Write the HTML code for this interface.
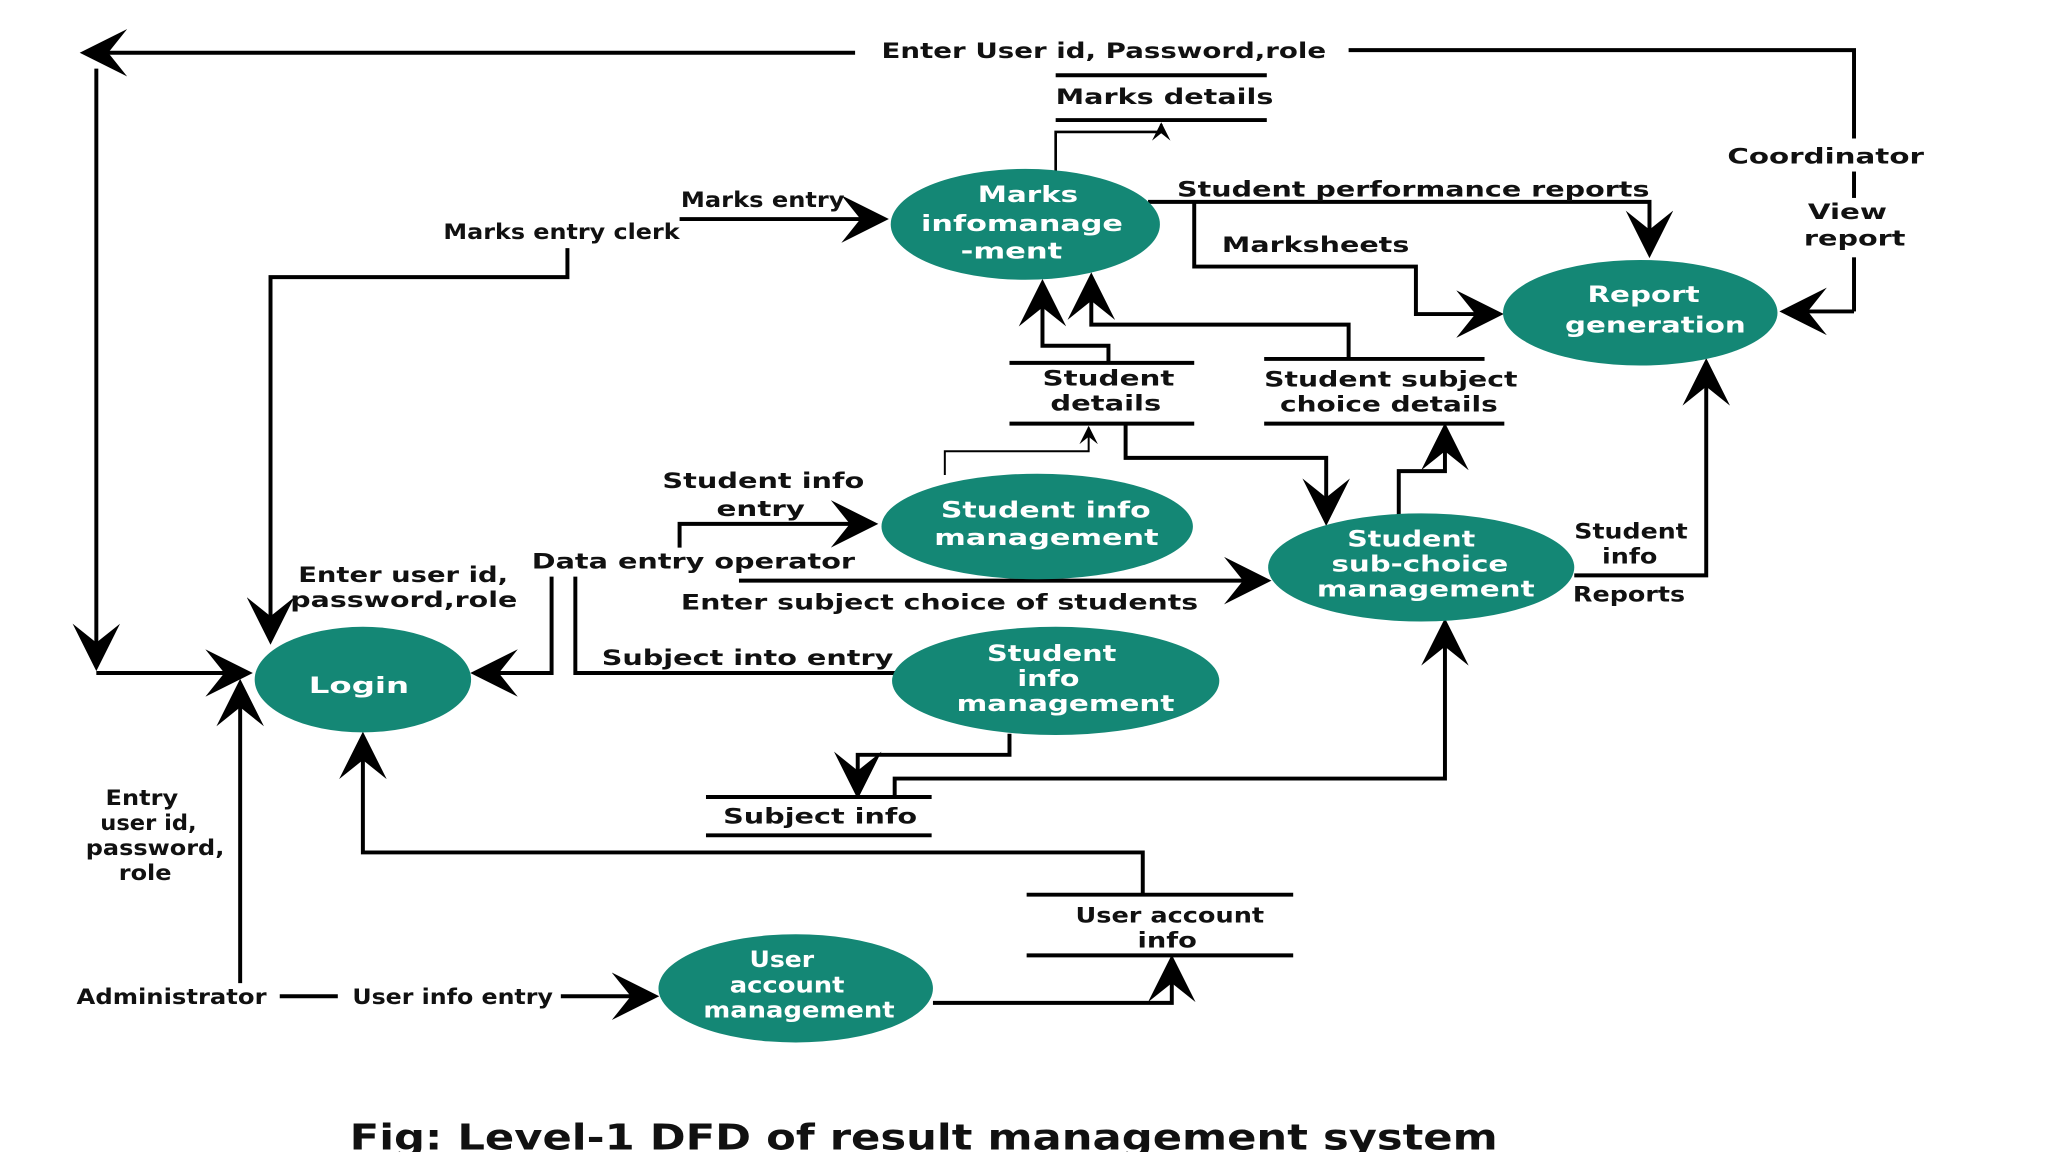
<!DOCTYPE html>
<html><head><meta charset="utf-8"><style>
html,body{margin:0;padding:0;background:#fff;width:2048px;height:1152px;overflow:hidden}
text{font-family:"DejaVu Sans","Liberation Sans",sans-serif;fill:#111;font-weight:bold}
.w text{fill:#fff}
</style></head><body>
<svg width="2048" height="1152" viewBox="0 0 1552 873" preserveAspectRatio="none" xmlns="http://www.w3.org/2000/svg">
<defs>
<marker id="b" viewBox="0 0 10 10" refX="9" refY="5" markerWidth="36" markerHeight="36" orient="auto" markerUnits="userSpaceOnUse"><path d="M0,0 L10,5 L0,10 L4,5 z" fill="#000"/></marker>
<marker id="s" viewBox="0 0 10 10" refX="9" refY="5" markerWidth="14" markerHeight="14" orient="auto" markerUnits="userSpaceOnUse"><path d="M0,0 L10,5 L0,10 L4,5 z" fill="#000"/></marker>
</defs>
<g fill="none" stroke="#000" stroke-width="3">
<polyline points="1405,236 1405,195"/>
<polyline points="1405,150 1405,130"/>
<polyline points="1405,105 1405,38 1022,38"/>
<polyline points="648,40 64,40" marker-end="url(#b)"/>
<polyline points="1405,236 1352,236" marker-end="url(#b)"/>
<polyline points="73,52 73,505" marker-end="url(#b)"/>
<polyline points="73,510 188,510" marker-end="url(#b)"/>
<line x1="800" y1="57" x2="960" y2="57"/><line x1="800" y1="91" x2="960" y2="91"/>
<polyline points="800,130 800,100 880,100 880,94" stroke-width="2" marker-end="url(#s)"/>
<polyline points="515,166 670,166" marker-end="url(#b)"/>
<polyline points="430,188 430,210 205,210 205,485" marker-end="url(#b)"/>
<polyline points="870,153 1250,153 1250,192" marker-end="url(#b)"/>
<polyline points="905,153 905,202 1073,202 1073,238 1136,238" marker-end="url(#b)"/>
<line x1="765" y1="275" x2="905" y2="275"/><line x1="765" y1="321" x2="905" y2="321"/>
<polyline points="840,275 840,262 790,262 790,215" marker-end="url(#b)"/>
<line x1="958" y1="272" x2="1125" y2="272"/><line x1="958" y1="321" x2="1140" y2="321"/>
<polyline points="1022,272 1022,246 827,246 827,210" marker-end="url(#b)"/>
<polyline points="716,360 716,342 825,342 825,324" stroke-width="1.5" marker-end="url(#s)"/>
<polyline points="853,321 853,347 1005,347 1005,395" marker-end="url(#b)"/>
<polyline points="1060,390 1060,357 1095,357 1095,324" marker-end="url(#b)"/>
<polyline points="1193,436 1293,436 1293,275" marker-end="url(#b)"/>
<polyline points="515,415 515,397 662,397" marker-end="url(#b)"/>
<polyline points="560,440 960,440" marker-end="url(#b)"/>
<polyline points="418,437 418,510 360,510" marker-end="url(#b)"/>
<polyline points="436,437 436,510 680,510"/>
<polyline points="765,556 765,572 650,572 650,602" marker-end="url(#b)"/>
<line x1="535" y1="604" x2="706" y2="604"/><line x1="535" y1="633" x2="706" y2="633"/>
<polyline points="678,604 678,590 1095,590 1095,472" marker-end="url(#b)"/>
<polyline points="866,678 866,646 275,646 275,558" marker-end="url(#b)"/>
<line x1="778" y1="678" x2="980" y2="678"/><line x1="778" y1="724" x2="980" y2="724"/>
<line x1="212" y1="755" x2="256" y2="755"/>
<polyline points="425,755 496,755" marker-end="url(#b)"/>
<polyline points="182,745 182,518" marker-end="url(#b)"/>
<polyline points="707,760 888,760 888,727" marker-end="url(#b)"/>
</g>
<g fill="#148775">
<ellipse cx="777" cy="170" rx="102" ry="42"/>
<ellipse cx="1243" cy="237" rx="104" ry="40"/>
<ellipse cx="786" cy="399" rx="118" ry="40"/>
<ellipse cx="1077" cy="430" rx="116" ry="41"/>
<ellipse cx="800" cy="516" rx="124" ry="41"/>
<ellipse cx="275" cy="515" rx="82" ry="40"/>
<ellipse cx="603" cy="749" rx="104" ry="41"/>
</g>
<g class="w" font-size="17" lengthAdjust="spacingAndGlyphs">
<text x="741" y="153" textLength="76" lengthAdjust="spacingAndGlyphs">Marks</text>
<text x="698" y="175" textLength="153" lengthAdjust="spacingAndGlyphs">infomanage</text>
<text x="728" y="196" textLength="77" lengthAdjust="spacingAndGlyphs">-ment</text>
<text x="1203" y="229" textLength="85" lengthAdjust="spacingAndGlyphs">Report</text>
<text x="1186" y="252" textLength="137" lengthAdjust="spacingAndGlyphs">generation</text>
<text x="713" y="392" textLength="159" lengthAdjust="spacingAndGlyphs">Student info</text>
<text x="708" y="413" textLength="170" lengthAdjust="spacingAndGlyphs">management</text>
<text x="1021" y="414" textLength="97" lengthAdjust="spacingAndGlyphs">Student</text>
<text x="1009" y="433" textLength="134" lengthAdjust="spacingAndGlyphs">sub-choice</text>
<text x="998" y="452" textLength="165" lengthAdjust="spacingAndGlyphs">management</text>
<text x="748" y="501" textLength="98" lengthAdjust="spacingAndGlyphs">Student</text>
<text x="771" y="520" textLength="47" lengthAdjust="spacingAndGlyphs">info</text>
<text x="725" y="539" textLength="165" lengthAdjust="spacingAndGlyphs">management</text>
<text x="234" y="525" textLength="76" lengthAdjust="spacingAndGlyphs">Login</text>
<text x="568" y="733" textLength="49" lengthAdjust="spacingAndGlyphs">User</text>
<text x="553" y="752" textLength="87" lengthAdjust="spacingAndGlyphs">account</text>
<text x="533" y="771" textLength="145" lengthAdjust="spacingAndGlyphs">management</text>
</g>
<g font-size="16">
<text x="668" y="44" textLength="337" lengthAdjust="spacingAndGlyphs">Enter User id, Password,role</text>
<text x="800" y="79" textLength="165" lengthAdjust="spacingAndGlyphs">Marks details</text>
<text x="1309" y="124" textLength="149" lengthAdjust="spacingAndGlyphs">Coordinator</text>
<text x="1370" y="166" textLength="60" lengthAdjust="spacingAndGlyphs">View</text>
<text x="1367" y="186" textLength="77" lengthAdjust="spacingAndGlyphs">report</text>
<text x="516" y="157" textLength="124" lengthAdjust="spacingAndGlyphs">Marks entry</text>
<text x="336" y="181" textLength="179" lengthAdjust="spacingAndGlyphs">Marks entry clerk</text>
<text x="892" y="149" textLength="358" lengthAdjust="spacingAndGlyphs">Student performance reports</text>
<text x="926" y="191" textLength="142" lengthAdjust="spacingAndGlyphs">Marksheets</text>
<text x="790" y="292" textLength="100" lengthAdjust="spacingAndGlyphs">Student</text>
<text x="796" y="311" textLength="84" lengthAdjust="spacingAndGlyphs">details</text>
<text x="958" y="293" textLength="192" lengthAdjust="spacingAndGlyphs">Student subject</text>
<text x="970" y="312" textLength="165" lengthAdjust="spacingAndGlyphs">choice details</text>
<text x="502" y="370" textLength="153" lengthAdjust="spacingAndGlyphs">Student info</text>
<text x="543" y="391" textLength="67" lengthAdjust="spacingAndGlyphs">entry</text>
<text x="403" y="431" textLength="245" lengthAdjust="spacingAndGlyphs">Data entry operator</text>
<text x="226" y="441" textLength="159" lengthAdjust="spacingAndGlyphs">Enter user id,</text>
<text x="220" y="460" textLength="172" lengthAdjust="spacingAndGlyphs">password,role</text>
<text x="516" y="462" textLength="392" lengthAdjust="spacingAndGlyphs">Enter subject choice of students</text>
<text x="456" y="504" textLength="221" lengthAdjust="spacingAndGlyphs">Subject into entry</text>
<text x="1193" y="408" textLength="86" lengthAdjust="spacingAndGlyphs">Student</text>
<text x="1214" y="427" textLength="42" lengthAdjust="spacingAndGlyphs">info</text>
<text x="1192" y="456" textLength="85" lengthAdjust="spacingAndGlyphs">Reports</text>
<text x="548" y="624" textLength="147" lengthAdjust="spacingAndGlyphs">Subject info</text>
<text x="80" y="610" textLength="55" lengthAdjust="spacingAndGlyphs">Entry</text>
<text x="76" y="629" textLength="73" lengthAdjust="spacingAndGlyphs">user id,</text>
<text x="65" y="648" textLength="105" lengthAdjust="spacingAndGlyphs">password,</text>
<text x="90" y="667" textLength="40" lengthAdjust="spacingAndGlyphs">role</text>
<text x="815" y="699" textLength="143" lengthAdjust="spacingAndGlyphs">User account</text>
<text x="862" y="718" textLength="45" lengthAdjust="spacingAndGlyphs">info</text>
<text x="58" y="761" textLength="144" lengthAdjust="spacingAndGlyphs">Administrator</text>
<text x="267" y="761" textLength="152" lengthAdjust="spacingAndGlyphs">User info entry</text>
<text x="265" y="871" font-size="27" textLength="870" lengthAdjust="spacingAndGlyphs">Fig: Level-1 DFD of result management system</text>
</g>
</svg>
</body></html>
